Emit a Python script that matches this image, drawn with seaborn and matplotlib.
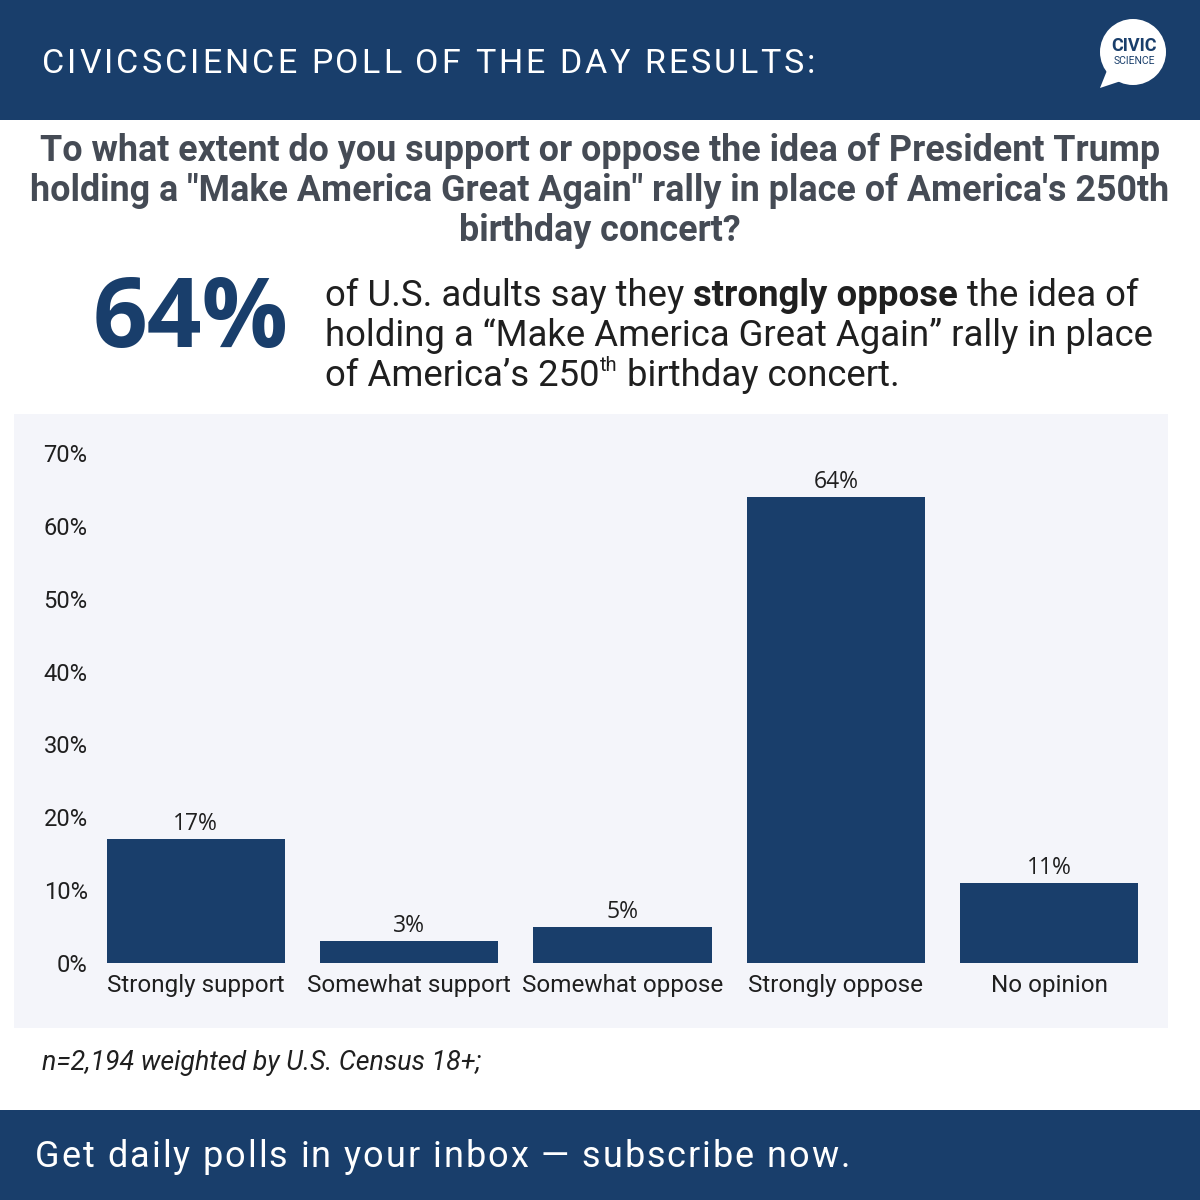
import matplotlib
matplotlib.use("Agg")
import matplotlib.pyplot as plt
import seaborn as sns
from matplotlib.patches import Rectangle, Circle, Polygon
from matplotlib.ticker import FuncFormatter

# -------- data --------
categories = ["Strongly support", "Somewhat support", "Somewhat oppose", "Strongly oppose", "No opinion"]
values = [17, 3, 5, 64, 11]
y_ticks = [0, 10, 20, 30, 40, 50, 60, 70]

header_text = "CIVICSCIENCE POLL OF THE DAY RESULTS:"
question_lines = [
    "To what extent do you support or oppose the idea of President Trump",
    "holding a \"Make America Great Again\" rally in place of America's 250th",
    "birthday concert?",
]
big_number = "64%"
footnote = "n=2,194 weighted by U.S. Census 18+;"
footer_text = "Get daily polls in your inbox \u2014 subscribe now."

NAVY = "#193e6b"
PANEL = "#f4f5fa"
GREY = "#454b55"
INK = "#1f1f1f"

sns.set_theme(style="white")
plt.rcParams["font.family"] = ["Roboto", "DejaVu Sans"]

fig = plt.figure(figsize=(12, 12), dpi=100)
renderer = fig.canvas.get_renderer()

# background layer in pixel coordinates
bg = fig.add_axes([0, 0, 1, 1])
bg.set_xlim(0, 1200)
bg.set_ylim(1200, 0)
bg.axis("off")


def text_width(s, **kw):
    t = bg.text(0, 0, s, **kw)
    w = t.get_window_extent(renderer).width
    t.remove()
    return w


def spaced_text(x, y, s, spacing, **kw):
    # letter-spaced text: place each char at its kerned offset + extra gap
    base = text_width("|", **kw)
    for i, ch in enumerate(s):
        if ch == " ":
            continue
        off = text_width(s[:i] + "|", **kw) - base if i else 0
        bg.text(x + off + i * spacing, y, ch, ha="left", **kw)


bg.add_patch(Rectangle((0, 0), 1200, 120, color=NAVY, lw=0))
bg.add_patch(Rectangle((0, 1110), 1200, 90, color=NAVY, lw=0))
bg.add_patch(Rectangle((14, 414), 1154, 614, color=PANEL, lw=0))

spaced_text(42, 73, header_text, 3.0, color="white", fontsize=24.5, va="baseline")

# logo
bg.add_patch(Circle((1133, 52), 33, color="white", lw=0))
bg.add_patch(Polygon([[1108, 68], [1100, 88], [1124, 80]], color="white", lw=0))
bg.text(1134, 46, "CIVIC", color=NAVY, fontsize=13, fontweight="bold", ha="center", va="center")
bg.text(1134, 61, "SCIENCE", color=NAVY, fontsize=7.5, ha="center", va="center")

# question
for i, line in enumerate(question_lines):
    bg.text(600, 151 + 40 * i, line, color=GREY, fontsize=25.8, fontweight="bold",
            ha="center", va="center")

# big number
bg.text(191, 322, big_number, color=NAVY, fontsize=69, fontweight="bold",
        family=["Open Sans", "DejaVu Sans"], ha="center", va="center")

# statement
fs = 26.3
t1 = bg.text(325, 306, "of U.S. adults say they ", fontsize=fs, color=INK, va="baseline")
t2 = bg.annotate("strongly oppose", xy=(1, 0), xycoords=t1, fontsize=fs, color=INK,
                 fontweight="bold", va="bottom", ha="left")
bg.annotate(" the idea of", xy=(1, 0), xycoords=t2, fontsize=fs, color=INK, va="bottom", ha="left")
bg.text(325, 346, "holding a \u201cMake America Great Again\u201d rally in place", fontsize=fs,
        color=INK, va="baseline")
t3 = bg.text(325, 386, "of America\u2019s 250", fontsize=fs, color=INK, va="baseline")
t4 = bg.annotate("th", xy=(1, 1), xycoords=t3, xytext=(0.5, 1.5), textcoords="offset points",
                 fontsize=14.5, color=INK, va="top", ha="left")
bg.annotate(" birthday concert.", xy=(1, 0), xycoords=(t4, t3), fontsize=fs, color=INK,
            va="bottom", ha="left")

# chart
ax = fig.add_axes([89 / 1200, 1 - 963 / 1200, 1067 / 1200, 510 / 1200])
ax.set_facecolor("none")
sns.barplot(x=categories, y=values, color=NAVY, saturation=1, width=0.835, ax=ax)
for b in ax.patches:
    b.set_edgecolor("none")
ax.bar_label(ax.containers[0], labels=[f"{v}%" for v in values], padding=2,
             fontsize=16.5, color=INK, family=["Open Sans", "DejaVu Sans"], clip_on=False)
ax.set_ylim(0, 70)
ax.set_xlim(-0.5, len(categories) - 0.5)
ax.set_yticks(y_ticks)
ax.yaxis.set_major_formatter(FuncFormatter(lambda v, _: f"{v:.0f}%"))
ax.tick_params(axis="y", length=0, pad=1, labelsize=17, labelcolor=INK)
ax.tick_params(axis="x", length=0, pad=8, labelsize=17.5, labelcolor=INK)
ax.set_xlabel("")
ax.set_ylabel("")
sns.despine(ax=ax, left=True, bottom=True)
ax.grid(False)

bg.text(42, 1063, footnote, fontsize=19.3, style="italic", color=INK, va="center")
spaced_text(35, 1167, footer_text, 1.95, fontsize=26, color="white", va="baseline")

fig.savefig("out.png", dpi=100)
